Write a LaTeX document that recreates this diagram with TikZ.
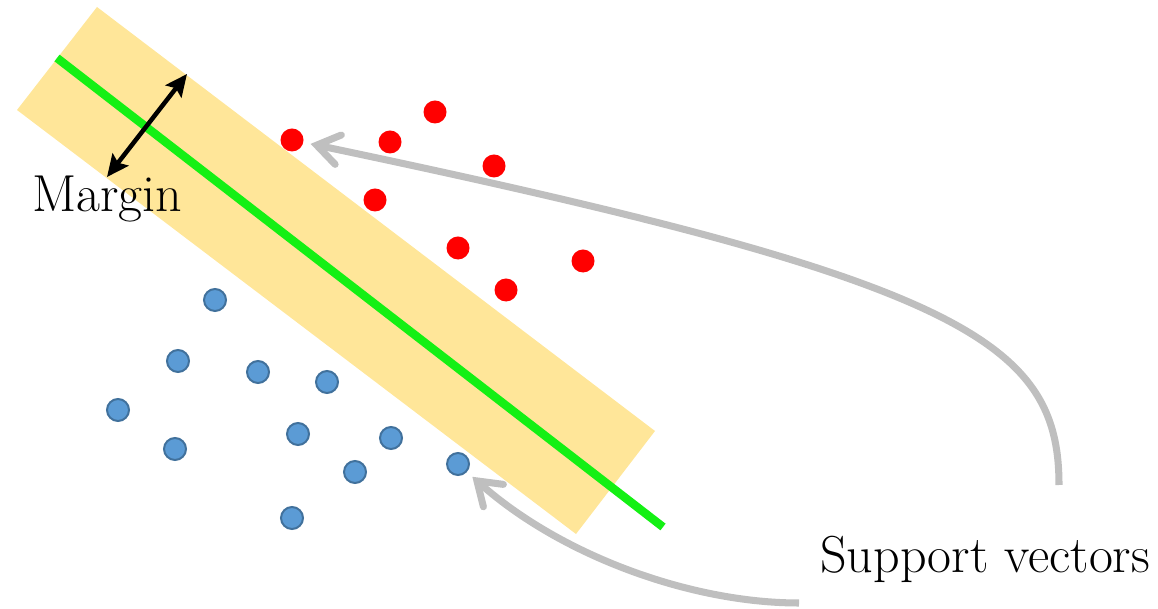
\documentclass[tikz,border=0pt]{standalone}
\usetikzlibrary{arrows.meta}
\definecolor{bandfill}{HTML}{FFE699}
\definecolor{hypgreen}{HTML}{14F014}
\definecolor{svgray}{HTML}{BFBFBF}
\definecolor{dotblue}{HTML}{5B9BD5}
\definecolor{dotedge}{HTML}{41719C}
\tikzset{
  reddot/.style={circle, fill=red, inner sep=0pt, minimum size=0.575cm},
  bluedot/.style={circle, fill=dotblue, draw=dotedge, line width=1.4pt, inner sep=0pt, minimum size=0.55cm},
  pointer/.style={svgray, line width=5pt, -{Straight Barb[length=0.55cm, width=0.75cm, line cap=round]}, shorten >=0.18cm},
  bigtext/.style={inner sep=0pt, anchor=base west, font=\fontsize{37}{44}\selectfont}
}
\begin{document}
\begin{tikzpicture}[x=0.025cm, y=-0.025cm]
            \useasboundingbox (0,0) rectangle (1158,609);

            % margin band and separating line
            \fill[bandfill] (97,7) -- (17,110) -- (576,534) -- (655,431) -- cycle;
            \draw[hypgreen, line width=6pt] (57,58) -- (663,527);

            \coordinate (m1) at (187,74);
            \coordinate (m2) at (107,177);
            \draw[{Stealth[length=0.55cm,width=0.5cm,inset=0.1cm]}-{Stealth[length=0.55cm,width=0.5cm,inset=0.1cm]}, line width=3.2pt] (m1) -- (m2);
            \node[bigtext] (margin) at (32,212) {Margin};

            % the two classes
            \foreach \x/\y [count=\i] in {292/140, 390/142, 435/112, 494/166, 375/200, 458/248, 506/290, 583/261}
                \node[reddot] (r\i) at (\x,\y) {};
            \foreach \x/\y [count=\i] in {215/300, 178/361, 258/372, 327/382, 118/410, 175/449, 298/434, 391/438, 355/472, 458/464, 292/518}
                \node[bluedot] (b\i) at (\x,\y) {};

            % support vectors
            \node[bigtext] (sv) at (820,572) {Support vectors};
            \coordinate (sv1) at (1059,485);
            \coordinate (sv2) at (799,603);
            \draw[pointer] (sv1) .. controls (1059,340) and (960,280) .. (r1);
            \draw[pointer] (sv2) .. controls (690,603) and (560,555) .. (b10);
\end{tikzpicture}
\end{document}
